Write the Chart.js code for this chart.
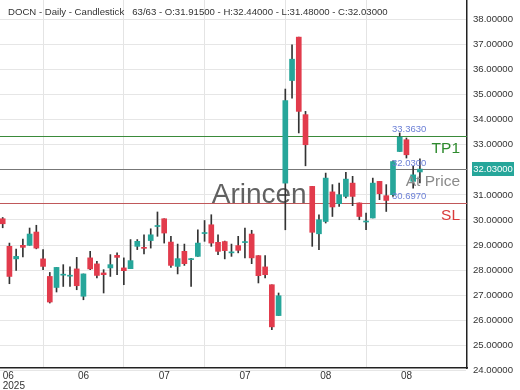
<!DOCTYPE html>
<html>
<head>
<meta charset="utf-8">
<script src="https://cdn.jsdelivr.net/npm/chart.js@4.4.1/dist/chart.umd.min.js"></script>
<style>
  body { margin: 0; background: #fff; }
  canvas { display: block; }
</style>
</head>
<body>
<canvas id="velas" width="520" height="390"></canvas>
<script>
// daily candles, 63 sessions
const opens  = [30.05, 28.95, 28.45, 28.99, 28.99, 29.52, 28.45, 27.75, 27.31, 27.80,
                27.76, 28.05, 26.96, 28.49, 28.25, 27.89, 28.09, 28.59, 28.09, 28.06,
                28.95, 28.91, 29.18, 29.74, 30.05, 29.12, 28.15, 28.75, 28.42, 28.55,
                29.46, 29.81, 29.11, 29.14, 28.69, 28.98, 29.10, 29.44, 28.58, 28.13,
                27.42, 26.19, 31.47, 35.56, 37.29, 34.20, 31.34, 29.45, 29.94, 31.12,
                30.65, 30.94, 31.47, 30.68, 29.92, 30.08, 31.54, 30.97, 31.01, 32.73,
                33.20, 31.54, 31.915];
const highs  = [30.10, 29.08, 28.84, 29.24, 29.68, 29.79, 28.82, 27.91, 28.11, 28.22,
                28.13, 28.51, 27.85, 28.75, 28.35, 28.02, 28.62, 28.69, 28.49, 29.22,
                29.22, 29.41, 29.65, 30.32, 30.05, 29.35, 29.04, 29.04, 28.47, 29.61,
                29.98, 30.21, 29.41, 29.16, 29.04, 29.35, 29.68, 29.59, 28.58, 28.58,
                27.42, 27.09, 35.22, 36.98, 37.29, 34.33, 31.34, 30.21, 31.87, 31.41,
                31.47, 31.90, 31.74, 30.68, 30.28, 31.67, 31.54, 31.41, 32.36, 33.47,
                33.27, 32.14, 32.44];
const lows   = [29.69, 27.46, 27.99, 28.53, 28.99, 28.85, 28.02, 26.69, 27.13, 27.35,
                27.35, 27.22, 26.82, 28.02, 27.69, 27.09, 27.75, 27.82, 27.42, 28.06,
                28.82, 28.65, 28.88, 29.35, 29.08, 28.11, 27.85, 28.19, 27.35, 28.55,
                29.15, 28.95, 28.62, 28.45, 28.55, 28.69, 28.49, 28.26, 27.49, 27.69,
                25.63, 26.19, 29.61, 34.86, 33.47, 32.16, 28.95, 28.82, 29.88, 30.14,
                30.54, 30.88, 30.57, 30.01, 29.61, 30.08, 30.81, 30.34, 30.94, 32.73,
                32.47, 31.27, 31.48];
const closes = [29.85, 27.75, 28.55, 28.91, 29.44, 28.88, 28.15, 26.73, 28.11, 27.84,
                27.80, 27.38, 27.85, 28.05, 27.79, 27.82, 28.22, 28.51, 27.98, 28.38,
                29.15, 28.87, 29.41, 29.78, 29.48, 28.19, 28.46, 28.26, 28.45, 29.08,
                29.50, 29.08, 28.75, 28.78, 28.72, 28.79, 29.12, 28.49, 27.78, 27.82,
                25.74, 26.98, 34.76, 36.41, 34.33, 33.00, 29.51, 30.01, 31.67, 30.52,
                31.01, 31.63, 30.94, 30.14, 29.96, 31.47, 31.05, 30.78, 32.33, 33.31,
                32.60, 31.80, 32.03];

const dateTickIndex = [0, 12, 24, 36, 48, 60];
const dateTickText = ['06', '06', '07', '07', '08', '08'];
const yearText = '2025';
const priceTicks = [24, 25, 26, 27, 28, 29, 30, 31, 32, 33, 34, 35, 36, 37, 38];

const levelNames = ['TP1', 'At Price', 'SL'];
const levelValues = [33.363, 32.03, 30.697];
const levelColors = ['#3a8a3a', '#777777', '#c0585a'];
const levelTextColors = ['#2e8b2e', '#8a8a8a', '#d93a3a'];

const verde = '#26a69a';
const vermelho = '#e23b4c';
const fonte = '"Liberation Sans", Arial, sans-serif';

const indices = opens.map((o, i) => i);
const corpos = indices.map(i => ({ x: i, y: [opens[i], closes[i]] }));
const pavios = indices.map(i => ({ x: i, y: [lows[i], highs[i]] }));
const coresCorpo = indices.map(i => closes[i] >= opens[i] ? verde : vermelho);

const ultimo = opens.length - 1;
const cabecalho = 'DOCN - Daily - Candlestick   ' + opens.length + '/' + opens.length +
    ' - O:' + opens[ultimo].toFixed(5) + ' - H:' + highs[ultimo].toFixed(5) +
    ' - L:' + lows[ultimo].toFixed(5) + ' - C:' + closes[ultimo].toFixed(5);

const extras = {
    id: 'extras',
    beforeDatasetsDraw(chart) {
        const { ctx, chartArea, scales } = chart;
        ctx.save();
        // marca d'agua
        ctx.font = '28px ' + fonte;
        ctx.fillStyle = 'rgba(80, 80, 80, 0.9)';
        ctx.textAlign = 'center';
        ctx.textBaseline = 'alphabetic';
        ctx.fillText('Arincen', chartArea.left + chartArea.width * 0.555, scales.y.getPixelForValue(30.68));
        // linhas de nivel
        levelValues.forEach((v, i) => {
            const y = Math.round(scales.y.getPixelForValue(v)) + 0.5;
            ctx.strokeStyle = levelColors[i];
            ctx.lineWidth = 1;
            ctx.beginPath();
            ctx.moveTo(chartArea.left, y);
            ctx.lineTo(chartArea.right, y);
            ctx.stroke();
        });
        ctx.restore();
    },
    afterDraw(chart) {
        const { ctx, chartArea, scales } = chart;
        ctx.save();
        ctx.textBaseline = 'middle';
        levelValues.forEach((v, i) => {
            const y = scales.y.getPixelForValue(v);
            ctx.font = '9.5px ' + fonte;
            ctx.fillStyle = '#6b7fd6';
            ctx.textAlign = 'left';
            ctx.fillText(v.toFixed(4), chartArea.right - 75, y - 6);
            ctx.font = '15.5px ' + fonte;
            ctx.fillStyle = levelTextColors[i];
            ctx.textAlign = 'right';
            ctx.fillText(levelNames[i], chartArea.right - 7, y + 13);
        });
        // etiqueta do preco atual
        const yp = scales.y.getPixelForValue(closes[ultimo]);
        ctx.fillStyle = verde;
        ctx.fillRect(chartArea.right + 5, Math.round(yp) - 7, 42, 14);
        ctx.fillStyle = '#ffffff';
        ctx.font = '9.5px ' + fonte;
        ctx.textAlign = 'center';
        ctx.fillText(closes[ultimo].toFixed(5), chartArea.right + 26, yp + 0.5);
        // cabecalho
        ctx.fillStyle = '#333333';
        ctx.textAlign = 'left';
        ctx.font = '9.6px ' + fonte;
        ctx.fillText(cabecalho, 8, 12);
        ctx.restore();
    }
};

new Chart(document.getElementById('velas'), {
    type: 'bar',
    data: {
        datasets: [
            {
                label: 'Corpo',
                data: corpos,
                backgroundColor: coresCorpo,
                borderWidth: 0,
                barThickness: 5,
                minBarLength: 1,
                grouped: false
            },
            {
                label: 'Pavio',
                data: pavios,
                backgroundColor: '#333333',
                borderWidth: 0,
                barThickness: 1,
                grouped: false
            }
        ]
    },
    options: {
        responsive: false,
        animation: false,
        layout: { padding: 0 },
        scales: {
            x: {
                type: 'linear',
                offset: false,
                min: -0.4,
                max: 69,
                afterBuildTicks: (scale) => {
                    scale.ticks = dateTickIndex.map(v => ({ value: v })).concat([{ value: 69 }]);
                },
                afterFit: (scale) => {
                    scale.height = 22;
                    scale.paddingLeft = 0;
                    scale.paddingRight = 0;
                },
                ticks: {
                    align: 'inner',
                    autoSkip: false,
                    maxRotation: 0,
                    padding: 3,
                    color: '#333',
                    font: { family: fonte, size: 10, lineHeight: 1.0 },
                    callback: (value) => {
                        const k = dateTickIndex.indexOf(value);
                        if (k < 0) return '';
                        return k === 0 ? [dateTickText[k], yearText] : dateTickText[k];
                    }
                },
                grid: {
                    drawTicks: false,
                    color: (c) => (c.tick && dateTickIndex.includes(c.tick.value)) ? '#e4e4e4' : 'rgba(0,0,0,0)'
                },
                border: { color: '#222', width: 1.5 }
            },
            y: {
                position: 'right',
                min: 24.1,
                max: 38.77,
                afterBuildTicks: (scale) => {
                    scale.ticks = priceTicks.map(v => ({ value: v }));
                },
                afterFit: (scale) => {
                    scale.width = 53;
                    scale.paddingTop = 0;
                    scale.paddingBottom = 0;
                },
                ticks: {
                    padding: 6,
                    color: '#333',
                    font: { family: fonte, size: 9.6 },
                    callback: (value) => Number(value).toFixed(5)
                },
                grid: {
                    drawTicks: false,
                    color: '#e6e6e6'
                },
                border: { color: '#222', width: 1.5 }
            }
        },
        plugins: {
            legend: { display: false },
            tooltip: { enabled: false },
            title: { display: false }
        }
    },
    plugins: [extras]
});
</script>
</body>
</html>
